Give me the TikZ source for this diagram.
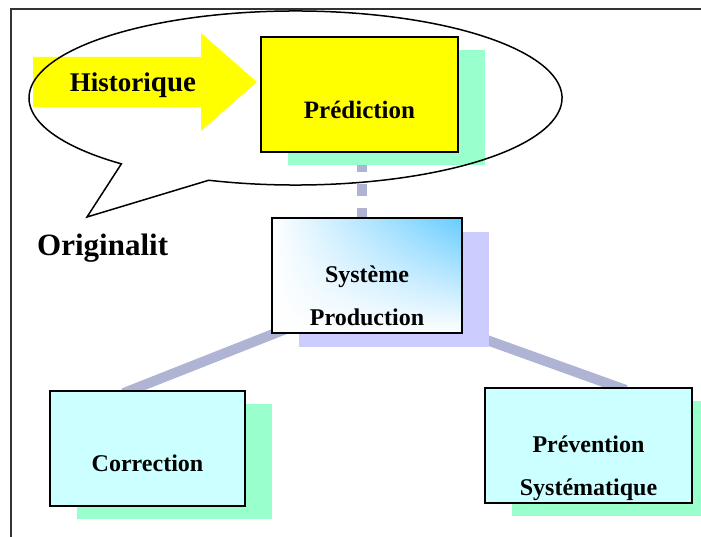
\documentclass[tikz,border=0pt]{standalone}
\usepackage{fontspec}
\setmainfont{Liberation Serif}
\usetikzlibrary{shadows,backgrounds,calc,fadings}

\definecolor{jaune}{RGB}{255,255,0}
\definecolor{vertombre}{RGB}{153,255,204}
\definecolor{mauveombre}{RGB}{204,204,255}
\definecolor{cyanclair}{RGB}{204,255,255}
\definecolor{bleuciel}{RGB}{102,204,255}
\definecolor{lien}{RGB}{176,180,212}

\tikzset{
  boite/.style={draw, line width=1.5pt, inner sep=0pt, minimum height=115pt},
  ombreverte/.style={copy shadow={shadow xshift=27pt, shadow yshift=-13pt, draw=none, fill=vertombre}},
  ombremauve/.style={copy shadow={shadow xshift=27pt, shadow yshift=-14pt, draw=none, fill=mauveombre}},
  texte/.style={font=\bfseries\fontsize{24}{43}\selectfont, align=center, anchor=base, inner sep=0pt},
  lienepais/.style={draw=lien, line width=10pt},
}

\begin{document}
\begin{tikzpicture}[x=1pt,y=1pt]
  \useasboundingbox (0,0) rectangle (701,-537);
  \draw[line width=1.5pt, black!80] (11,-537) -- (11,-9) -- (701,-9); % cadre

  % fleche jaune
  \fill[jaune] (33,-57) -- (201,-57) -- (201,-33) -- (257,-82) -- (201,-131) -- (201,-107) -- (33,-107) -- cycle;
  \node[texte, font=\bfseries\fontsize{27}{27}\selectfont] (hist) at (133,-92) {Histori{\fontsize{29}{29}\selectfont que}};

  \node[boite, ombreverte, fill=jaune, minimum width=197pt] (pred) at (359.5,-94.5) {};
  \node[texte, font=\bfseries\fontsize{25}{25}\selectfont] (predT) at ([yshift=-24.5pt]pred.center) {Prédiction};

  \node[boite, ombremauve, minimum width=190pt, preaction={fill=white},
        preaction={left color=white, right color=bleuciel, path fading=south}] (sys) at (367,-275.5) {};
  \node[texte] (sysT) at ([yshift=-49.5pt]sys.center) {Système\\Production};

  \node[boite, ombreverte, fill=cyanclair, minimum width=195pt] (corr) at (147.5,-448.5) {};
  \node[texte] (corrT) at ([yshift=-22.5pt]corr.center) {Correction};

  \node[boite, ombreverte, fill=cyanclair, minimum width=207pt] (prev) at (588.5,-445.5) {};
  \node[texte] (prevT) at ([yshift=-49.5pt]prev.center) {Prévention\\Systématique};

  \node[texte, font=\bfseries\fontsize{31}{31}\selectfont, anchor=base west] (orig) at (37,-256) {Originalit};

  \begin{pgfonlayer}{background}
    \coordinate (haut) at ([xshift=2pt]pred.south);
    \draw[lienepais, dash pattern=on 12pt off 12pt, dash phase=17pt] (haut) -- (haut |- sys.north);
    \coordinate (pivot) at ([yshift=-21.5pt]sys.center);
    \draw[lienepais, shorten >=-8pt] (pivot) -- ($(corr.north west)!0.415!(corr.north east)$);
    \draw[lienepais, shorten >=-8pt] (pivot) -- ($(prev.north west)!0.643!(prev.north east)$);
  \end{pgfonlayer}

  % bulle
  \coordinate (centre) at (295.5,-98);
  \coordinate (pointe) at (87,-217);
  \draw[line width=1.5pt] (centre) ++(251:266.5 and 87)
    arc[start angle=251, end angle=589.2, x radius=266.5, y radius=87] -- (pointe) -- cycle;
\end{tikzpicture}
\end{document}
